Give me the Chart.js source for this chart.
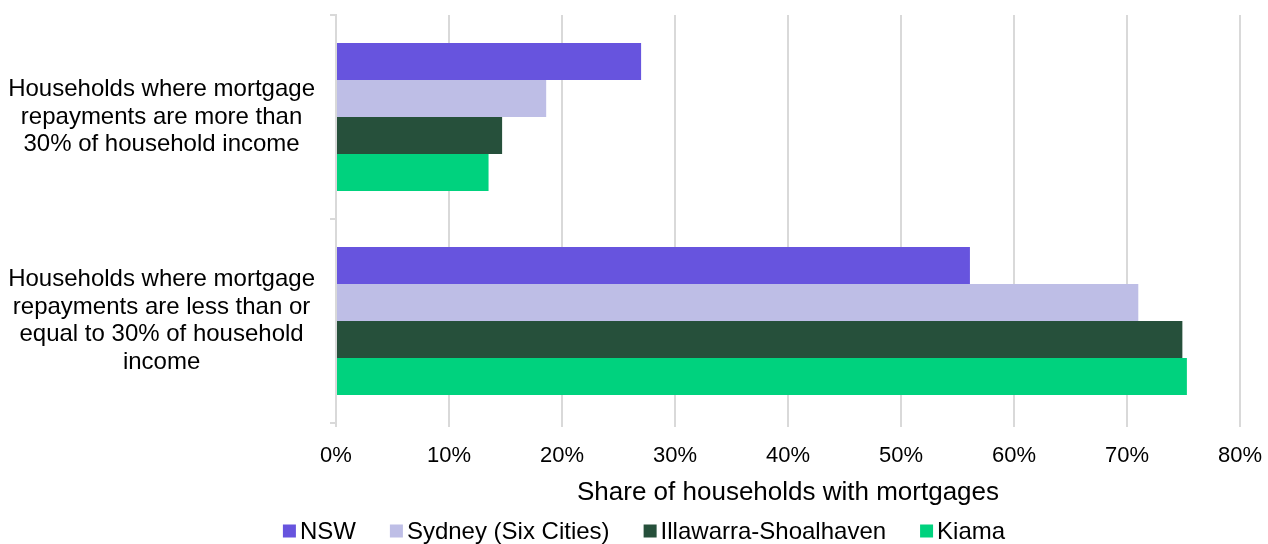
<!DOCTYPE html>
<html>
<head>
<meta charset="utf-8">
<script src="https://cdn.jsdelivr.net/npm/chart.js@4.4.1/dist/chart.umd.min.js"></script>
<style>
  html, body { margin: 0; padding: 0; background: #fff; }
  #wrap { width: 1268px; height: 544px; }
</style>
</head>
<body>
<div id="wrap"><canvas id="myChart" width="1268" height="544"></canvas></div>
<script>
// Mortgage stress categories (wrapped label lines)
const categories = [
  ['Households where mortgage', 'repayments are more than', '30% of household income'],
  ['Households where mortgage', 'repayments are less than or', 'equal to 30% of household', 'income']
];

const seriesNames = ['NSW', 'Sydney (Six Cities)', 'Illawarra-Shoalhaven', 'Kiama'];
const nswValues = [27.0, 56.1];
const sydneyValues = [18.6, 71.0];
const illawarraValues = [14.7, 74.9];
const kiamaValues = [13.5, 75.3];

const xTicks = [0, 10, 20, 30, 40, 50, 60, 70, 80];
const xTitle = 'Share of households with mortgages';

const colors = ['#6754DE', '#BEBEE6', '#26503B', '#00D27E'];
const FONT = '"Liberation Sans", Arial, sans-serif';

// Simple legend drawn along the bottom: small squares close to the text
const bottomLegend = {
  id: 'bottomLegend',
  afterDraw(chart) {
    const ctx = chart.ctx;
    const box = 13, gap = 4, itemGap = 34, y = 532;
    ctx.save();
    ctx.font = '24px ' + FONT;
    ctx.textBaseline = 'middle';
    const items = chart.data.datasets.map(ds => ({
      label: ds.label,
      color: ds.backgroundColor,
      w: box + gap + ctx.measureText(ds.label).width
    }));
    const total = items.reduce((s, it) => s + it.w, 0) + itemGap * (items.length - 1);
    let x = (chart.width - total) / 2 + 10;
    items.forEach(it => {
      ctx.fillStyle = it.color;
      ctx.fillRect(x, y - box / 2 - 1, box, box);
      ctx.fillStyle = '#000';
      ctx.fillText(it.label, x + box + gap, y);
      x += it.w + itemGap;
    });
    ctx.restore();
  }
};

const seriesValues = [nswValues, sydneyValues, illawarraValues, kiamaValues];

const ctx = document.getElementById('myChart');

new Chart(ctx, {
  type: 'bar',
  data: {
    labels: categories,
    datasets: seriesNames.map((name, i) => ({
      label: name,
      data: seriesValues[i],
      backgroundColor: colors[i],
      borderWidth: 0,
      barPercentage: 1,
      categoryPercentage: 0.725
    }))
  },
  options: {
    indexAxis: 'y',
    responsive: false,
    animation: false,
    layout: { padding: { top: 15, right: 28, bottom: 0, left: 0 } },
    plugins: {
      legend: { display: false },
      tooltip: { enabled: false }
    },
    scales: {
      x: {
        min: 0,
        max: 80,
        afterFit: scale => {
          scale.height = 121;
          scale.paddingLeft = 0;
          scale.paddingRight = 0;
        },
        afterBuildTicks: scale => { scale.ticks = xTicks.map(v => ({ value: v })); },
        ticks: {
          color: '#000',
          font: { family: FONT, size: 22 },
          padding: 16,
          callback: v => v + '%'
        },
        grid: { color: '#d9d9d9', lineWidth: 2, tickLength: 4 },
        border: { display: false },
        title: {
          display: true,
          text: xTitle,
          color: '#000',
          font: { family: FONT, size: 26 },
          padding: { top: 8, bottom: 36 }
        }
      },
      y: {
        afterFit: scale => {
          scale.width = 336;
          scale.paddingTop = 0;
          scale.paddingBottom = 0;
        },
        ticks: {
          color: '#000',
          font: { family: FONT, size: 24, lineHeight: 1.15 },
          crossAlign: 'center',
          padding: 15
        },
        grid: {
          drawOnChartArea: false,
          offset: true,
          color: '#d9d9d9',
          lineWidth: 2,
          tickLength: 6
        },
        border: { display: true, color: '#d9d9d9', width: 2 }
      }
    }
  },
  plugins: [bottomLegend]
});
</script>
</body>
</html>
